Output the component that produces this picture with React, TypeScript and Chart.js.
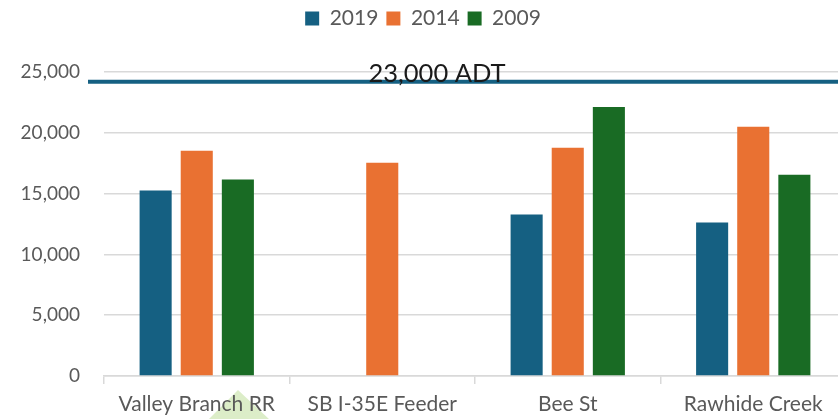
import React, { useEffect, useRef } from "react";
import { Chart, registerables } from "chart.js";

Chart.register(...registerables);

const categories = ["Valley Branch RR", "SB I-35E Feeder", "Bee St", "Rawhide Creek"];
const series2019: (number | null)[] = [15250, null, 13280, 12620];
const series2014: (number | null)[] = [18520, 17540, 18770, 20490];
const series2009: (number | null)[] = [16150, null, 22130, 16560];
const seriesNames = ["2019", "2014", "2009"];
const seriesColors = ["#156082", "#E97132", "#196B24"];
const thresholdValue = 24200;
const thresholdLabel = "23,000 ADT";
const yTicks = [0, 5000, 10000, 15000, 20000, 25000];

const FONT = "Lato, 'Open Sans', 'Liberation Sans', sans-serif";

const thresholdPlugin = {
  id: "threshold",
  afterDatasetsDraw(chart: any) {
    const { ctx, chartArea, scales } = chart;
    const y = scales.y.getPixelForValue(thresholdValue);
    ctx.save();
    ctx.strokeStyle = "#156082";
    ctx.lineWidth = 4;
    ctx.beginPath();
    ctx.moveTo(chartArea.left - 16, y);
    ctx.lineTo(chartArea.right + 10, y);
    ctx.stroke();
    ctx.fillStyle = "#1a1a1a";
    ctx.font = `25.5px ${FONT}`;
    ctx.textAlign = "center";
    ctx.textBaseline = "alphabetic";
    ctx.fillText(thresholdLabel, 437, y + 0);
    ctx.restore();
  },
};

const legendSpacePlugin = {
  id: "legendSpace",
  beforeInit(chart: any) {
    const legend = chart.legend;
    if (!legend) return;
    const origFit = legend.fit;
    legend.fit = function () {
      origFit.call(this);
      this.height += 33;
    };
  },
};

const trianglePlugin = {
  id: "triangleDeco",
  beforeDraw(chart: any) {
    const { ctx } = chart;
    ctx.save();
    ctx.fillStyle = "#dcedc8";
    ctx.beginPath();
    ctx.moveTo(238, 390);
    ctx.lineTo(270, 420);
    ctx.lineTo(208, 420);
    ctx.closePath();
    ctx.fill();
    ctx.restore();
  },
};

export default function App() {
  const ref = useRef<HTMLCanvasElement | null>(null);
  useEffect(() => {
    if (!ref.current) return;
    const chart = new Chart(ref.current, {
      type: "bar",
      data: {
        labels: categories,
        datasets: [
          { label: seriesNames[0], data: series2019, backgroundColor: seriesColors[0] },
          { label: seriesNames[1], data: series2014, backgroundColor: seriesColors[1] },
          { label: seriesNames[2], data: series2009, backgroundColor: seriesColors[2] },
        ],
      },
      options: {
        animation: false,
        responsive: false,
        maintainAspectRatio: false,
        layout: { padding: { top: 0, left: 0, right: 0, bottom: 0 } },
        datasets: { bar: { categoryPercentage: 0.665, barPercentage: 0.78 } },
        plugins: {
          legend: {
            position: "top",
            labels: {
              boxWidth: 14,
              boxHeight: 14,
              padding: 8,
              color: "#595959",
              font: { family: FONT, size: 21 },
            },
          },
          tooltip: { enabled: false },
        },
        scales: {
          x: {
            afterFit: (s: any) => {
              s.height = 43;
            },
            grid: {
              drawOnChartArea: false,
              drawTicks: true,
              tickLength: 8,
              color: "#d9d9d9",
              lineWidth: 1.5,
            },
            border: { display: true, color: "#d9d9d9", width: 1.5 },
            ticks: {
              color: "#595959",
              font: { family: FONT, size: 21 },
              padding: 8,
              maxRotation: 0,
              autoSkip: false,
            },
          },
          y: {
            min: 0,
            max: 25000,
            afterBuildTicks: (s: any) => {
              s.ticks = yTicks.map((v) => ({ value: v }));
            },
            afterFit: (s: any) => {
              s.width = 104;
            },
            grid: { color: "#d9d9d9", lineWidth: 1.5, drawTicks: false },
            border: { display: false },
            ticks: {
              color: "#595959",
              font: { family: FONT, size: 19 },
              padding: 24,
              callback: (v: any) => Number(v).toLocaleString("en-US"),
            },
          },
        },
      },
      plugins: [legendSpacePlugin, trianglePlugin, thresholdPlugin],
    });
    return () => chart.destroy();
  }, []);
  return (
    <div style={{ position: "fixed", left: 0, top: 0, width: 838, height: 419, overflow: "hidden", background: "#fff" }}>
      <canvas ref={ref} width={846} height={419} style={{ display: "block" }} />
    </div>
  );
}
